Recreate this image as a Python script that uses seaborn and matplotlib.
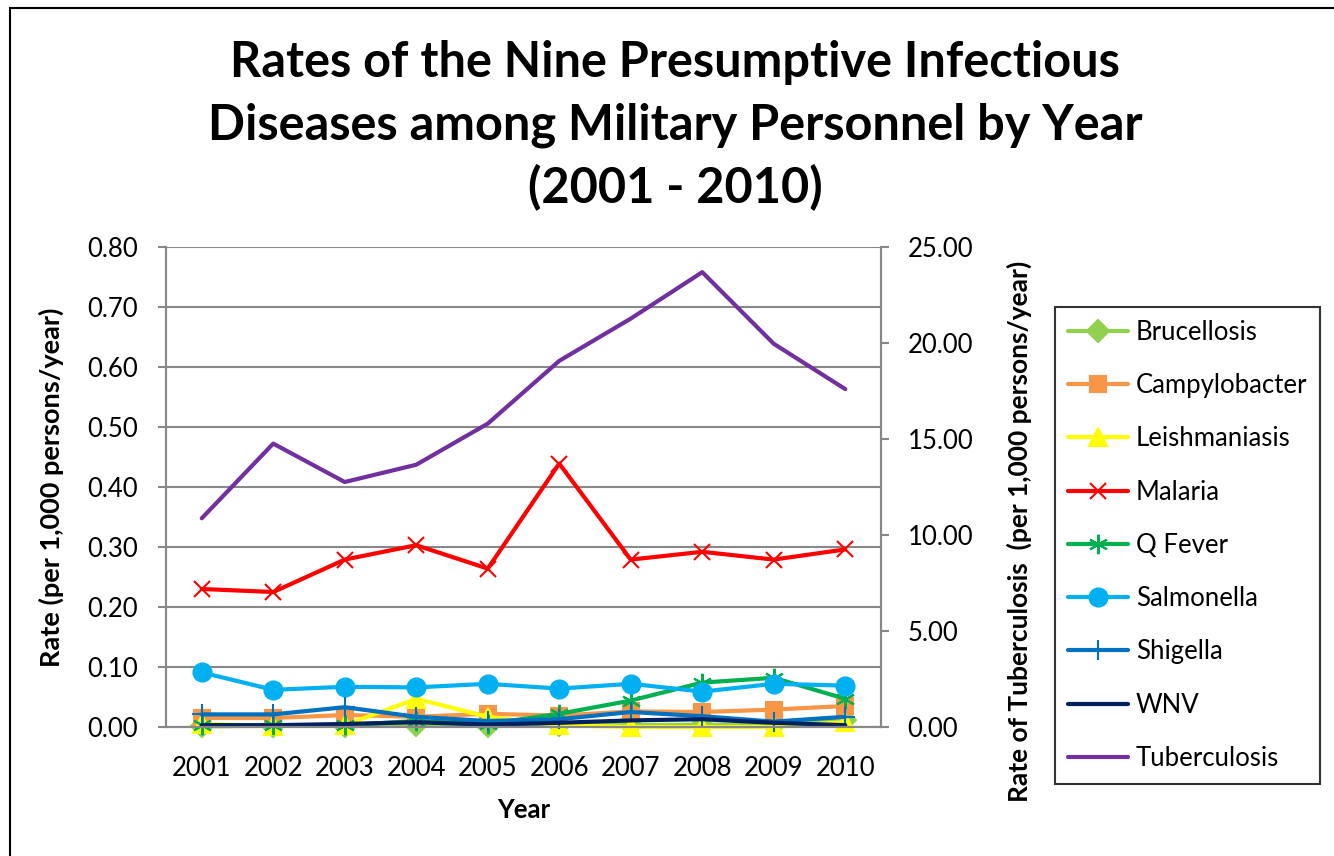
import numpy as np
import matplotlib
matplotlib.use("Agg")
import matplotlib.pyplot as plt
import seaborn as sns
from matplotlib.patches import Rectangle
from matplotlib.ticker import MultipleLocator, FormatStrFormatter

sns.set_style("white")
plt.rcParams['font.family'] = ['Lato', 'DejaVu Sans']
plt.rcParams['text.color'] = 'black'
plt.rcParams['axes.labelcolor'] = 'black'
plt.rcParams['xtick.color'] = 'black'
plt.rcParams['ytick.color'] = 'black'

# Data
years = [2001, 2002, 2003, 2004, 2005, 2006, 2007, 2008, 2009, 2010]
brucellosis = [0.001, 0.002, 0.002, 0.003, 0.002, 0.004, 0.003, 0.004, 0.003, 0.012]
campylobacter = [0.015, 0.015, 0.020, 0.017, 0.022, 0.019, 0.026, 0.025, 0.029, 0.035]
leishmaniasis = [0.005, 0.002, 0.003, 0.047, 0.017, 0.003, 0.0, 0.0, 0.0, 0.008]
malaria = [0.230, 0.225, 0.279, 0.303, 0.264, 0.439, 0.279, 0.292, 0.279, 0.296]
q_fever = [0.003, 0.003, 0.003, 0.010, 0.005, 0.022, 0.044, 0.074, 0.082, 0.047]
salmonella = [0.091, 0.062, 0.067, 0.066, 0.072, 0.064, 0.072, 0.059, 0.072, 0.069]
shigella = [0.021, 0.021, 0.033, 0.017, 0.010, 0.013, 0.025, 0.018, 0.009, 0.017]
wnv = [0.003, 0.003, 0.005, 0.008, 0.004, 0.007, 0.011, 0.013, 0.007, 0.003]
tuberculosis = [10.87, 14.76, 12.76, 13.66, 15.80, 19.07, 21.27, 23.69, 19.96, 17.60]

title_lines = ["Rates of the Nine Presumptive Infectious",
               "Diseases among Military Personnel by Year",
               "(2001 - 2010)"]

series = [
    ("Brucellosis", brucellosis, "#92D050", "D", 11),
    ("Campylobacter", campylobacter, "#F79646", "s", 11),
    ("Leishmaniasis", leishmaniasis, "#FFFF00", "^", 13),
    ("Malaria", malaria, "#FF0000", "x", 12),
    ("Q Fever", q_fever, "#00B050", (6, 2, 0), 14),
    ("Salmonella", salmonella, "#00B0F0", "o", 13),
    ("Shigella", shigella, "#0070C0", "+", 15),
    ("WNV", wnv, "#002060", None, 0),
]

fig = plt.figure(figsize=(13.34, 8.56), dpi=100)
ax = fig.add_axes([166 / 1334, 1 - 727 / 856, 715 / 1334, 480 / 856])
ax2 = ax.twinx()

for name, vals, col, mk, ms in series:
    sns.lineplot(x=years, y=vals, ax=ax, color=col, marker=mk, markersize=ms,
                 markeredgecolor=col, markeredgewidth=1.5, linewidth=3,
                 label=name, legend=False, clip_on=False)

sns.lineplot(x=years, y=tuberculosis, ax=ax2, color="#7030A0", linewidth=3,
             label="Tuberculosis", legend=False)

ax.set_xlim(2000.5, 2010.5)
ax.set_ylim(0, 0.8)
ax2.set_ylim(0, 25)
ax.yaxis.set_major_locator(MultipleLocator(0.1))
ax.yaxis.set_major_formatter(FormatStrFormatter('%.2f'))
ax2.yaxis.set_major_locator(MultipleLocator(5))
ax2.yaxis.set_major_formatter(FormatStrFormatter('%.2f'))
ax.set_xticks(years)
ax.set_xticks(np.arange(2000.5, 2011, 1), minor=True)
ax.tick_params(axis='x', which='major', length=0, labelsize=18.5, pad=21)
ax.tick_params(axis='x', which='minor', length=6, color='#888888', width=1.5, direction='out')
ax.tick_params(axis='y', length=6, color='#888888', width=1.5, labelsize=18.5, direction='out', pad=14)
ax2.tick_params(axis='y', length=6, color='#888888', width=1.5, labelsize=18.5, direction='out', pad=13)

ax.grid(axis='y', color='#888888', linewidth=1.5)
ax.set_axisbelow(True)
for a in (ax, ax2):
    a.spines['top'].set_visible(False)
    for side in ('left', 'right', 'bottom'):
        a.spines[side].set_visible(True)
        a.spines[side].set_color('#888888')
        a.spines[side].set_linewidth(1.5)

ax.set_xlabel("Year", fontsize=18.5, fontweight='bold', labelpad=12)
ax.set_ylabel("Rate (per 1,000 persons/year)", fontsize=19.5, fontweight='bold')
ax.yaxis.set_label_coords(-0.142, 0.5)
ax2.set_ylabel("Rate of Tuberculosis  (per 1,000 persons/year)", fontsize=19,
               fontweight='bold')
ax2.yaxis.set_label_coords(1.176, 0.408)

# Title, one line at a time
for i, line in enumerate(title_lines):
    fig.text(675 / 1334, 1 - (77 + 63 * i) / 856, line, ha='center', va='baseline',
             fontsize=35, fontweight='bold')

h1, l1 = ax.get_legend_handles_labels()
h2, l2 = ax2.get_legend_handles_labels()
leg = fig.legend(h1 + h2, l1 + l2, loc='upper left',
                 bbox_to_anchor=(1055 / 1334, 1 - 307 / 856), borderaxespad=0,
                 fontsize=18.5, frameon=True, fancybox=False, edgecolor='black',
                 handlelength=2.35, labelspacing=1.1, borderpad=0.5, handletextpad=0.3)
leg.get_frame().set_linewidth(1.5)

fig.patches.append(Rectangle((10 / 1334, -0.1), 1.2, 1 - 8 / 856 + 0.1,
                             transform=fig.transFigure, fill=False,
                             edgecolor='black', linewidth=1.5))

fig.savefig("out.png", dpi=100)
